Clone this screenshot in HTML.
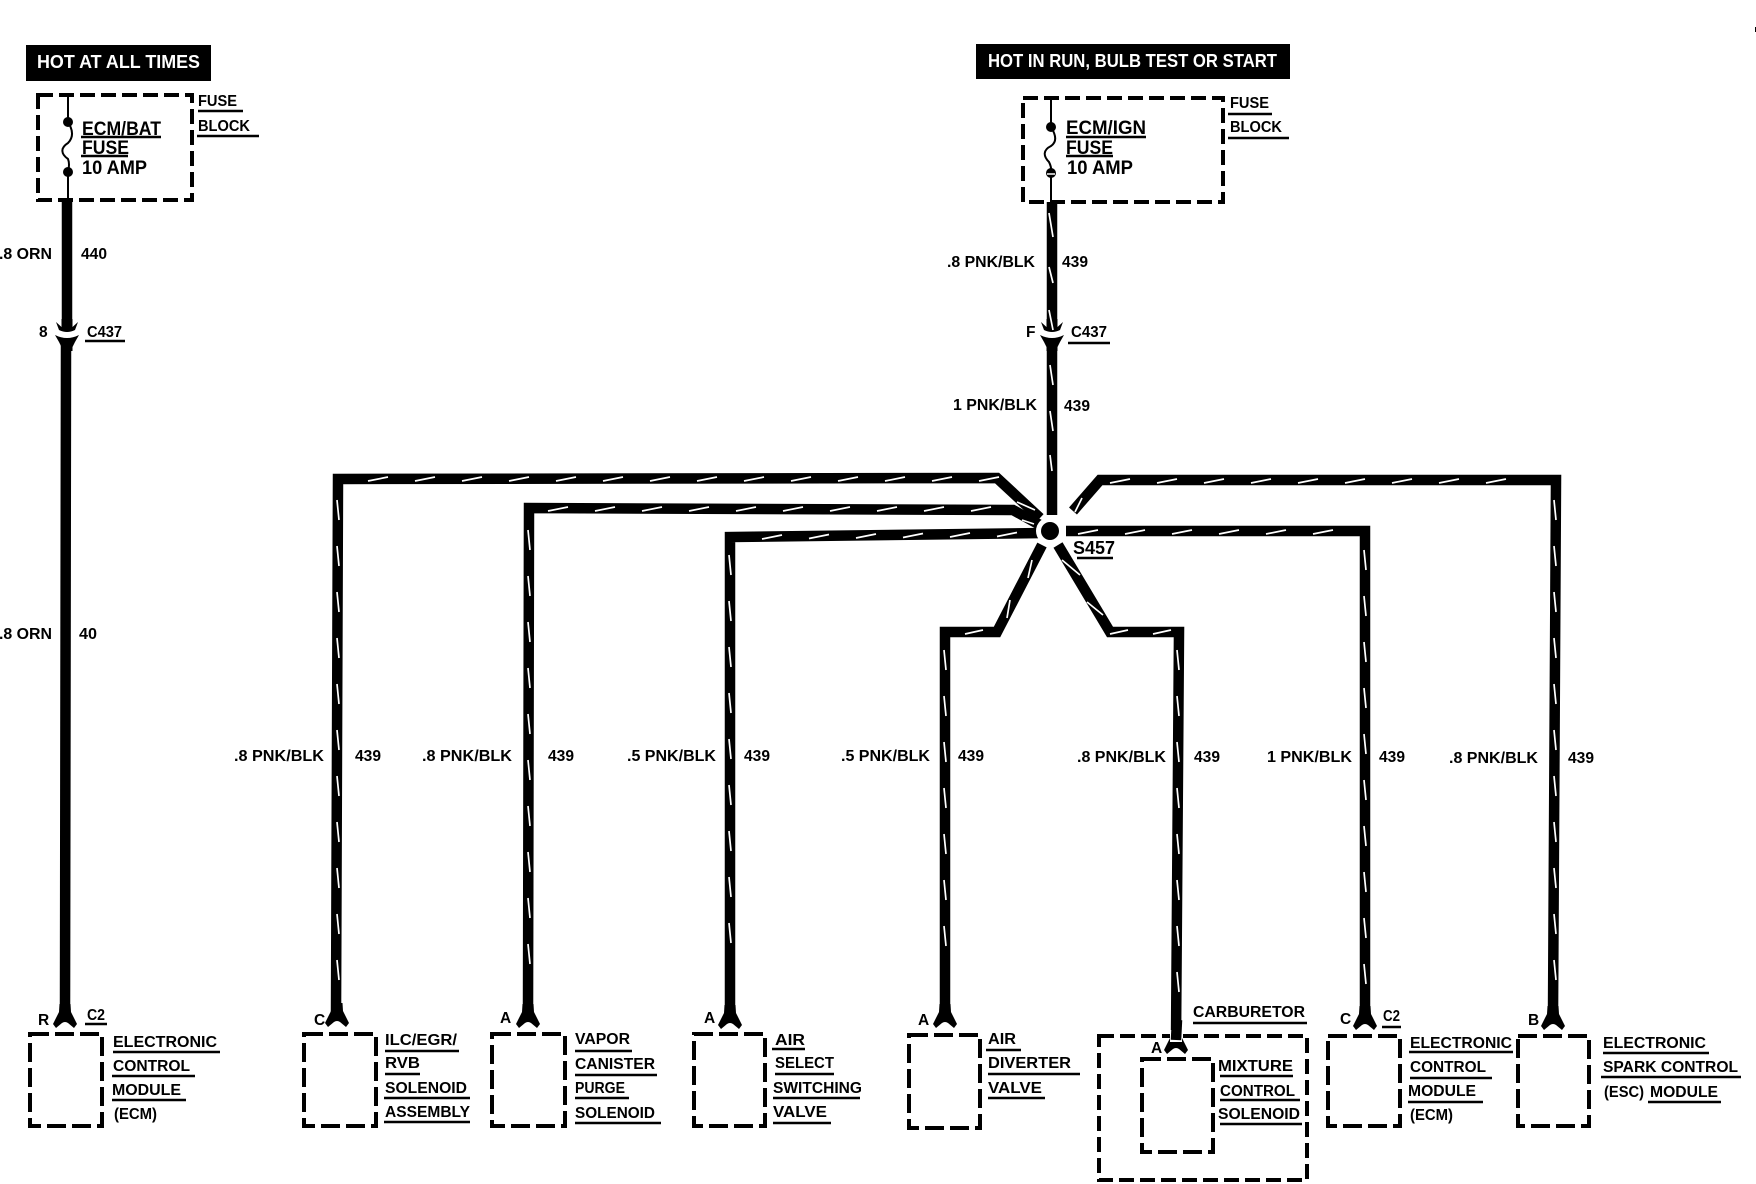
<!DOCTYPE html>
<html lang="en">
<head>
<meta charset="utf-8">
<title>Wiring diagram</title>
<style>
html,body{margin:0;padding:0;background:#fff;width:1756px;height:1184px;overflow:hidden}
svg{display:block}
text{font-family:"Liberation Sans",sans-serif;font-weight:bold;fill:#000}
.s{font-size:15.5px}
.f{font-size:19.5px}
.h{font-size:18px;fill:#fff}
.w{fill:none;stroke:#000;stroke-width:10.5;stroke-linejoin:miter;stroke-linecap:butt}
.m{fill:none;stroke:#fff;stroke-width:1.7}
.d{fill:none;stroke:#000;stroke-width:4;stroke-dasharray:19 6}
.d2{fill:none;stroke:#000;stroke-width:4;stroke-dasharray:15 6}
.u{fill:none;stroke:#000;stroke-width:2.4}
</style>
</head>
<body>
<svg xmlns="http://www.w3.org/2000/svg" width="1756" height="1184" viewBox="0 0 1756 1184">
<defs>
<path id="fork" d="M-5.500 -18L-6 -10L-12 2L-9 6L-3 1Q0 -1 3 1L9 6L12 2L6 -10L5.500 -18Z"/>
<path id="conn" d="M-5.500 -14L-5.500 -6L-11 -11L-8 -3Q0 1 8 -3L11 -11L5.500 -6L5.500 -14ZM-12 2Q0 8 12 2L8 9L5.500 14L5.500 18L-5.500 18L-5.500 14L-8 9Z"/>
</defs>
<rect width="1756" height="1184" fill="#fff"/>
<rect x="1755" y="27" width="1" height="5" fill="#000"/>

<!-- header boxes -->
<rect x="26" y="45" width="185" height="36" fill="#000"/>
<text class="h" x="37" y="68" textLength="163" lengthAdjust="spacingAndGlyphs">HOT AT ALL TIMES</text>
<rect x="976" y="44" width="314" height="35" fill="#000"/>
<text class="h" x="988" y="67" textLength="289" lengthAdjust="spacingAndGlyphs">HOT IN RUN, BULB TEST OR START</text>

<!-- fuse block left -->
<rect class="d2" x="38" y="95" width="154" height="105"/>
<path d="M68 95V122M68 172V200M68 122C73 130 74 137 68 143C60 148 61 154 68 159Q70 164 68 172" fill="none" stroke="#000" stroke-width="2"/>
<circle cx="68" cy="122" r="5"/><circle cx="68" cy="172" r="5"/>
<text class="f" x="82" y="135" textLength="79" lengthAdjust="spacingAndGlyphs">ECM/BAT</text>
<path class="u" d="M81 137H161M81 156H128"/>
<text class="f" x="82" y="154" textLength="47" lengthAdjust="spacingAndGlyphs">FUSE</text>
<text class="f" x="82" y="174" textLength="65" lengthAdjust="spacingAndGlyphs">10 AMP</text>
<text class="s" x="198" y="106" textLength="39" lengthAdjust="spacingAndGlyphs">FUSE</text>
<text class="s" x="198" y="131" textLength="52" lengthAdjust="spacingAndGlyphs">BLOCK</text>
<path class="u" d="M198 111H243M197 136H259"/>

<!-- fuse block right -->
<rect class="d2" x="1023" y="98" width="200" height="104"/>
<path d="M1051 98V127M1051 173V202M1051 127C1056 135 1057 142 1051 146C1043 150 1043 156 1049 162Q1052 168 1051 173" fill="none" stroke="#000" stroke-width="2"/>
<circle cx="1051" cy="127" r="5"/><circle cx="1051" cy="173" r="5"/>
<path d="M1047 174H1055" stroke="#fff" stroke-width="1.500"/>
<text class="f" x="1066" y="134" textLength="80" lengthAdjust="spacingAndGlyphs">ECM/IGN</text>
<path class="u" d="M1066 137H1146M1066 156H1113"/>
<text class="f" x="1066" y="154" textLength="47" lengthAdjust="spacingAndGlyphs">FUSE</text>
<text class="f" x="1067" y="174" textLength="66" lengthAdjust="spacingAndGlyphs">10 AMP</text>
<text class="s" x="1230" y="108" textLength="39" lengthAdjust="spacingAndGlyphs">FUSE</text>
<text class="s" x="1230" y="132" textLength="52" lengthAdjust="spacingAndGlyphs">BLOCK</text>
<path class="u" d="M1228 114H1272M1228 138H1289"/>

<!-- wires -->
<path class="w" d="M67 200V322M66 345L65 1014"/>
<path class="w" d="M1052 202V322M1052 345V515"/>
<path class="w" d="M336 1014L338 479L997 478L1040 518"/>
<path class="w" d="M528 1014L529 508L1013 510L1040 525"/>
<path class="w" d="M730 1014L730 537L1044 533"/>
<path class="w" d="M1553 1014L1556 480L1100 480L1073 511"/>
<path class="w" d="M1365 1014V531H1066"/>
<path class="w" d="M1042 545L997 632H945V1014"/>
<path class="w" d="M1058 545L1110 632H1179L1176 1040"/>

<use href="#conn" x="67" y="333"/>
<use href="#conn" x="1052" y="333"/>
<use href="#fork" x="65" y="1022"/>
<use href="#fork" x="337" y="1021"/>
<use href="#fork" x="528" y="1022"/>
<use href="#fork" x="730" y="1023"/>
<use href="#fork" x="945" y="1022"/>
<use href="#fork" x="1176" y="1048"/>
<use href="#fork" x="1365" y="1024"/>
<use href="#fork" x="1553" y="1024"/>

<!-- tracer marks -->
<path class="m" d="M368 481l20-4m27 4l20-4m27 4l20-4m27 4l20-4m27 4l20-4m27 4l20-4m27 4l20-4m27 4l20-4m27 4l20-4m27 4l20-4m27 4l20-4m27 4l20-4m27 4l20-4m27 4l20-4"/>
<path class="m" d="M548 511l20-4m27 4l20-4m27 4l20-4m27 4l20-4m27 4l20-4m27 4l20-4m27 4l20-4m27 4l20-4m27 4l20-4m27 4l20-4"/>
<path class="m" d="M762 539l20-4m27 3.500l20-4m27 3.500l20-4m27 3.500l20-4m27 3.500l20-4m27 3.500l20-4"/>
<path class="m" d="M1110 483l20-4m27 4l20-4m27 4l20-4m27 4l20-4m27 4l20-4m27 4l20-4m27 4l20-4m27 4l20-4m27 4l20-4"/>
<path class="m" d="M1078 534l20-4m27 4l20-4m27 4l20-4m27 4l20-4m27 4l20-4m27 4l20-4"/>
<path class="m" d="M965 634l18-4M1110 634l18-4M1153 634l18-4"/>
<path class="m" d="M1017 502l18 8M1022 520l12 4M1075 512l7-14M1028 578l4-18M1007 618l3-18M1062 560l18 15M1087 602l16 13"/>
<path class="m" d="M1049 213l4 24M1049 267l4 16M1049 310l4 20M1050 365l3 20m-3 26l3 20m-3 24l2 16"/>
<path class="m" d="M337 500l2 20m-2 26l2 20m-2 26l2 20m-2 26l2 20m-2 26l2 20m-2 26l2 20m-2 26l2 20m-2 26l2 20m-2 26l2 20m-2 26l2 20m-2 26l2 20"/>
<path class="m" d="M528 530l2 20m-2 26l2 20m-2 26l2 20m-2 26l2 20m-2 26l2 20m-2 26l2 20m-2 26l2 20m-2 26l2 20m-2 26l2 20m-2 26l2 20"/>
<path class="m" d="M729 555l2 20m-2 26l2 20m-2 26l2 20m-2 26l2 20m-2 26l2 20m-2 26l2 20m-2 26l2 20m-2 26l2 20m-2 26l2 20"/>
<path class="m" d="M944 650l2 20m-2 26l2 20m-2 26l2 20m-2 26l2 20m-2 26l2 20m-2 26l2 20m-2 26l2 20"/>
<path class="m" d="M1177 650l2 20m-2 26l2 20m-2 26l2 20m-2 26l2 20m-2 26l2 20m-2 26l2 20m-2 26l2 20m-2 26l2 20"/>
<path class="m" d="M1364 550l2 20m-2 26l2 20m-2 26l2 20m-2 26l2 20m-2 26l2 20m-2 26l2 20m-2 26l2 20m-2 26l2 20m-2 26l2 20m-2 26l2 20"/>
<path class="m" d="M1554 500l2 20m-2 26l2 20m-2 26l2 20m-2 26l2 20m-2 26l2 20m-2 26l2 20m-2 26l2 20m-2 26l2 20m-2 26l2 20m-2 26l2 20m-2 26l2 20"/>

<!-- splice -->
<circle cx="1050" cy="531" r="14" fill="#fff"/>
<circle cx="1050" cy="531" r="9"/>
<text class="f" x="1073" y="554" textLength="42" lengthAdjust="spacingAndGlyphs" style="font-size:18px">S457</text>
<path class="u" d="M1077 558H1113"/>

<!-- wire labels -->
<text class="s" x="-1" y="259" textLength="53" lengthAdjust="spacingAndGlyphs">.8 ORN</text>
<text class="s" x="81" y="259" textLength="26" lengthAdjust="spacingAndGlyphs">440</text>
<text class="s" x="39" y="337">8</text>
<text class="s" x="87" y="337" textLength="35" lengthAdjust="spacingAndGlyphs">C437</text>
<path class="u" d="M85 341H125"/>
<text class="s" x="-1" y="639" textLength="53" lengthAdjust="spacingAndGlyphs">.8 ORN</text>
<text class="s" x="79" y="639" textLength="18" lengthAdjust="spacingAndGlyphs">40</text>

<text class="s" x="947" y="267" textLength="88" lengthAdjust="spacingAndGlyphs">.8 PNK/BLK</text>
<text class="s" x="1062" y="267" textLength="26" lengthAdjust="spacingAndGlyphs">439</text>
<text class="s" x="1026" y="337">F</text>
<text class="s" x="1071" y="337" textLength="36" lengthAdjust="spacingAndGlyphs">C437</text>
<path class="u" d="M1068 343H1110"/>
<text class="s" x="953" y="410" textLength="84" lengthAdjust="spacingAndGlyphs">1 PNK/BLK</text>
<text class="s" x="1064" y="411" textLength="26" lengthAdjust="spacingAndGlyphs">439</text>

<text class="s" x="234" y="761" textLength="90" lengthAdjust="spacingAndGlyphs">.8 PNK/BLK</text>
<text class="s" x="355" y="761" textLength="26" lengthAdjust="spacingAndGlyphs">439</text>
<text class="s" x="422" y="761" textLength="90" lengthAdjust="spacingAndGlyphs">.8 PNK/BLK</text>
<text class="s" x="548" y="761" textLength="26" lengthAdjust="spacingAndGlyphs">439</text>
<text class="s" x="627" y="761" textLength="89" lengthAdjust="spacingAndGlyphs">.5 PNK/BLK</text>
<text class="s" x="744" y="761" textLength="26" lengthAdjust="spacingAndGlyphs">439</text>
<text class="s" x="841" y="761" textLength="89" lengthAdjust="spacingAndGlyphs">.5 PNK/BLK</text>
<text class="s" x="958" y="761" textLength="26" lengthAdjust="spacingAndGlyphs">439</text>
<text class="s" x="1077" y="762" textLength="89" lengthAdjust="spacingAndGlyphs">.8 PNK/BLK</text>
<text class="s" x="1194" y="762" textLength="26" lengthAdjust="spacingAndGlyphs">439</text>
<text class="s" x="1267" y="762" textLength="85" lengthAdjust="spacingAndGlyphs">1 PNK/BLK</text>
<text class="s" x="1379" y="762" textLength="26" lengthAdjust="spacingAndGlyphs">439</text>
<text class="s" x="1449" y="763" textLength="89" lengthAdjust="spacingAndGlyphs">.8 PNK/BLK</text>
<text class="s" x="1568" y="763" textLength="26" lengthAdjust="spacingAndGlyphs">439</text>

<!-- ECM left -->
<rect class="d" x="30" y="1034" width="72" height="92"/>
<text class="s" x="38" y="1025">R</text>
<text class="s" x="87" y="1020" textLength="18" lengthAdjust="spacingAndGlyphs">C2</text>
<path class="u" d="M85 1024H107"/>
<text class="s" x="113" y="1047" textLength="104" lengthAdjust="spacingAndGlyphs">ELECTRONIC</text>
<text class="s" x="113" y="1071" textLength="77" lengthAdjust="spacingAndGlyphs">CONTROL</text>
<text class="s" x="112" y="1095" textLength="69" lengthAdjust="spacingAndGlyphs">MODULE</text>
<text class="s" x="114" y="1119" textLength="43" lengthAdjust="spacingAndGlyphs">(ECM)</text>
<path class="u" d="M113 1052H220M112 1076H195M112 1100H186"/>

<!-- ILC -->
<rect class="d" x="304" y="1034" width="72" height="92"/>
<text class="s" x="314" y="1025">C</text>
<text class="s" x="385" y="1045" textLength="72" lengthAdjust="spacingAndGlyphs">ILC/EGR/</text>
<text class="s" x="385" y="1068" textLength="35" lengthAdjust="spacingAndGlyphs">RVB</text>
<text class="s" x="385" y="1093" textLength="82" lengthAdjust="spacingAndGlyphs">SOLENOID</text>
<text class="s" x="385" y="1117" textLength="85" lengthAdjust="spacingAndGlyphs">ASSEMBLY</text>
<path class="u" d="M385 1051H459M385 1074H420M384 1098H470M384 1122H470"/>

<!-- Vapor -->
<rect class="d" x="492" y="1034" width="73" height="92"/>
<text class="s" x="500" y="1023">A</text>
<text class="s" x="575" y="1044" textLength="55" lengthAdjust="spacingAndGlyphs">VAPOR</text>
<text class="s" x="575" y="1069" textLength="80" lengthAdjust="spacingAndGlyphs">CANISTER</text>
<text class="s" x="575" y="1093" textLength="50" lengthAdjust="spacingAndGlyphs">PURGE</text>
<text class="s" x="575" y="1118" textLength="80" lengthAdjust="spacingAndGlyphs">SOLENOID</text>
<path class="u" d="M575 1051H632M575 1075H657M575 1098H629M575 1123H661"/>

<!-- Air select -->
<rect class="d" x="694" y="1034" width="71" height="92"/>
<text class="s" x="704" y="1023">A</text>
<text class="s" x="775" y="1045" textLength="30" lengthAdjust="spacingAndGlyphs">AIR</text>
<text class="s" x="775" y="1068" textLength="59" lengthAdjust="spacingAndGlyphs">SELECT</text>
<text class="s" x="773" y="1093" textLength="89" lengthAdjust="spacingAndGlyphs">SWITCHING</text>
<text class="s" x="773" y="1117" textLength="54" lengthAdjust="spacingAndGlyphs">VALVE</text>
<path class="u" d="M772 1049H805M775 1074H834M773 1098H860M773 1123H831"/>

<!-- Air diverter -->
<rect class="d" x="909" y="1035" width="71" height="93"/>
<text class="s" x="918" y="1025">A</text>
<text class="s" x="988" y="1044" textLength="28" lengthAdjust="spacingAndGlyphs">AIR</text>
<text class="s" x="988" y="1068" textLength="83" lengthAdjust="spacingAndGlyphs">DIVERTER</text>
<text class="s" x="988" y="1093" textLength="54" lengthAdjust="spacingAndGlyphs">VALVE</text>
<path class="u" d="M986 1050H1021M988 1074H1080M988 1098H1045"/>

<!-- Carburetor -->
<rect class="d2" x="1099" y="1036" width="208" height="144"/>
<path d="M1170 1030L1182 1030L1182 1042L1170 1042Z" fill="#fff"/>
<path class="w" d="M1177 1020L1176 1040"/>
<text class="s" x="1193" y="1017" textLength="112" lengthAdjust="spacingAndGlyphs">CARBURETOR</text>
<path class="u" d="M1193 1023H1307"/>
<rect class="d" x="1142" y="1059" width="71" height="93"/>
<text class="s" x="1151" y="1053">A</text>
<text class="s" x="1218" y="1071" textLength="75" lengthAdjust="spacingAndGlyphs">MIXTURE</text>
<text class="s" x="1220" y="1096" textLength="75" lengthAdjust="spacingAndGlyphs">CONTROL</text>
<text class="s" x="1218" y="1119" textLength="82" lengthAdjust="spacingAndGlyphs">SOLENOID</text>
<path class="u" d="M1220 1076H1293M1220 1100H1300M1220 1124H1302"/>

<!-- ECM right -->
<rect class="d" x="1328" y="1036" width="72" height="90"/>
<text class="s" x="1340" y="1024">C</text>
<text class="s" x="1383" y="1021" textLength="17" lengthAdjust="spacingAndGlyphs">C2</text>
<path class="u" d="M1382 1027H1401"/>
<text class="s" x="1410" y="1048" textLength="102" lengthAdjust="spacingAndGlyphs">ELECTRONIC</text>
<text class="s" x="1410" y="1072" textLength="76" lengthAdjust="spacingAndGlyphs">CONTROL</text>
<text class="s" x="1408" y="1096" textLength="68" lengthAdjust="spacingAndGlyphs">MODULE</text>
<text class="s" x="1410" y="1120" textLength="43" lengthAdjust="spacingAndGlyphs">(ECM)</text>
<path class="u" d="M1409 1052H1513M1410 1078H1492M1408 1102H1483"/>

<!-- ESC -->
<rect class="d" x="1518" y="1036" width="71" height="90"/>
<text class="s" x="1528" y="1025">B</text>
<text class="s" x="1603" y="1048" textLength="103" lengthAdjust="spacingAndGlyphs">ELECTRONIC</text>
<text class="s" x="1603" y="1072" textLength="135" lengthAdjust="spacingAndGlyphs">SPARK CONTROL</text>
<text class="s" x="1604" y="1097" textLength="40" lengthAdjust="spacingAndGlyphs">(ESC)</text>
<text class="s" x="1650" y="1097" textLength="68" lengthAdjust="spacingAndGlyphs">MODULE</text>
<path class="u" d="M1603 1053H1709M1601 1077H1741M1648 1102H1721"/>
</svg>
</body>
</html>
